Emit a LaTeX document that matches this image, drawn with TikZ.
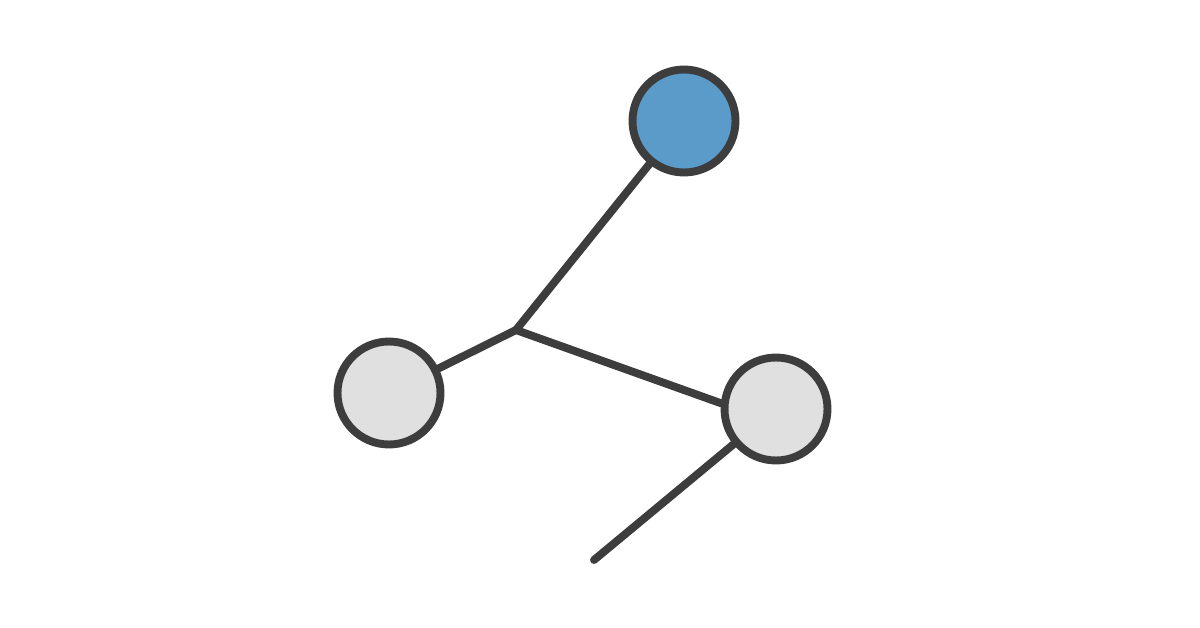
\documentclass[tikz,border=0pt]{standalone}
\usepackage{tikz}
\definecolor{edgegray}{HTML}{3D3D3D}
\definecolor{nodegray}{HTML}{E0E0E0}
\definecolor{nodeblue}{HTML}{5B9BC9}
\begin{document}
\begin{tikzpicture}[x=0.02cm,y=-0.02cm,line width=4.5pt,draw=edgegray,line cap=round]
    \tikzstyle{vertex}=[circle,draw=edgegray,fill=nodegray,minimum size=2.06cm,inner sep=0pt]
    \useasboundingbox (0,0) rectangle (1200,628);
    \fill[white] (0,0) rectangle (1200,628);
    \node[vertex,fill=nodeblue] (V-1) at (684,121) {};
    \foreach \num/\x/\y in {2/389/393, 3/776/409}
            \node[vertex] (V-\num) at (\x,\y) {};

        \coordinate (J) at (516,330);
        \coordinate (E) at (594,560);

        \foreach \from/\to in {1/J, 2/J, 3/E}
            \draw[edgegray] (V-\from) -- (\to);
        \draw[edgegray] (V-3.174) -- (J);
\end{tikzpicture}
\end{document}
